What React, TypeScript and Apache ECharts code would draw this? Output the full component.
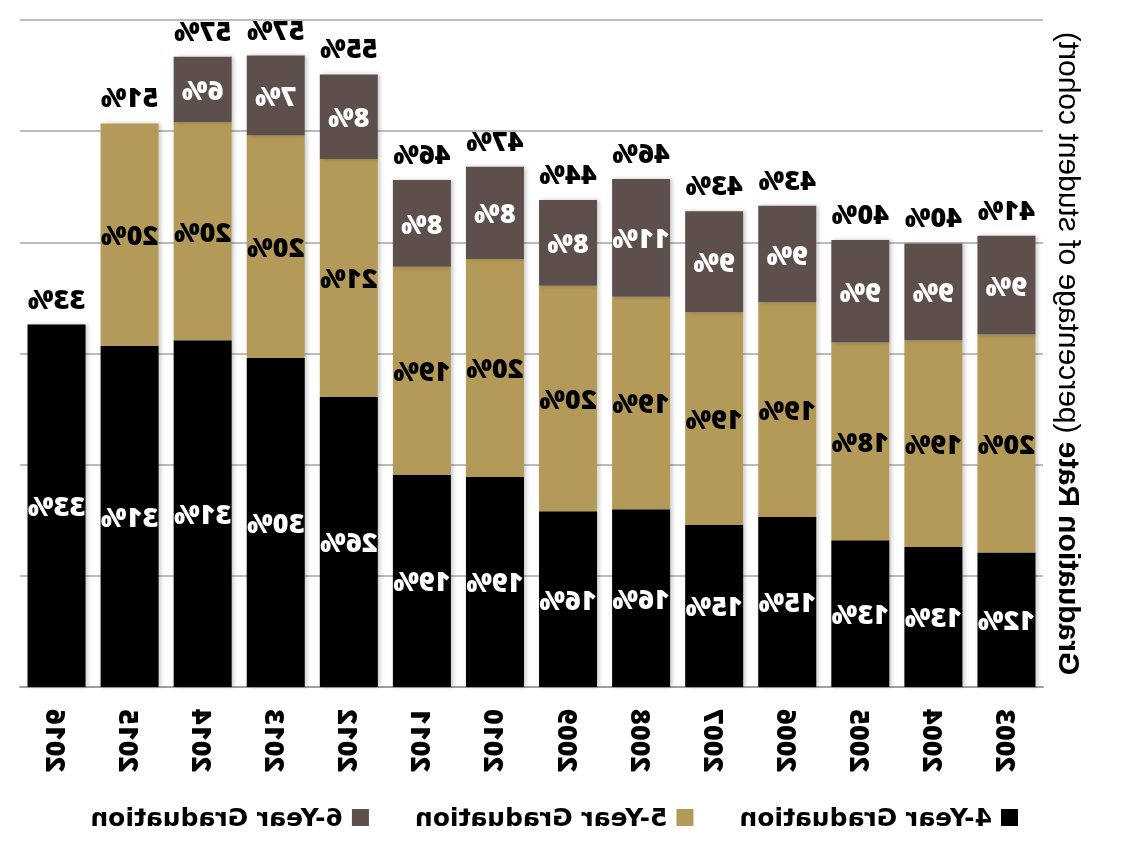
import React, { useEffect, useRef } from "react";
import * as echarts from "echarts";

const years = ["2003", "2004", "2005", "2006", "2007", "2008", "2009", "2010", "2011", "2012", "2013", "2014", "2015", "2016"];
const fourYear = [12.1, 12.6, 13.2, 15.3, 14.6, 16.0, 15.8, 18.9, 19.1, 26.1, 29.6, 31.2, 30.7, 32.6];
const fiveYear = [19.6, 18.6, 17.8, 19.3, 19.1, 19.1, 20.3, 19.6, 18.7, 21.4, 20.0, 19.6, 20.0, null];
const sixYear = [8.9, 8.7, 9.2, 8.7, 9.1, 10.6, 7.7, 8.3, 7.8, 7.6, 7.2, 5.9, null, null];
const totalLabels = [41, 40, 40, 43, 43, 46, 44, 47, 46, 55, 57, 57, 51, 33];
const zeroTop = [0, 0, 0, 0, 0, 0, 0, 0, 0, 0, 0, 0, 0, 0];

const LABEL_FONT = "'Open Sans', Lato, sans-serif";

export default function App() {
  const ref = useRef<HTMLDivElement>(null);
  useEffect(() => {
    document.body.style.margin = "0";
    const chart = echarts.init(ref.current!, null, { renderer: "svg" });
    const shadow = { shadowBlur: 4, shadowColor: "rgba(0,0,0,0.22)", shadowOffsetX: -2 };
    const inner = (color: string) => ({
      show: true,
      position: "inside" as const,
      color,
      fontFamily: LABEL_FONT,
      fontWeight: 800,
      fontSize: 27,
      formatter: (p: any) => (p.value == null ? "" : Math.round(p.value) + "%"),
    });
    chart.setOption({
      animation: false,
      grid: { left: 82, right: 20, top: 20, bottom: 162, containLabel: false },
      legend: {
        data: ["4-Year Graduation", "5-Year Graduation", "6-Year Graduation"],
        left: 102,
        top: 800,
        itemWidth: 17,
        itemHeight: 17,
        itemGap: 46,
        icon: "rect",
        textStyle: {
          fontFamily: "'DejaVu Sans', sans-serif",
          fontWeight: "bold",
          fontSize: 25,
          color: "#000",
          padding: [0, 0, 0, 4],
        },
      },
      xAxis: {
        type: "category",
        data: years,
        axisTick: { show: false },
        axisLine: { lineStyle: { color: "#a0a0a0", width: 2 } },
        axisLabel: {
          rotate: 90,
          margin: 22,
          color: "#000",
          fontFamily: LABEL_FONT,
          fontWeight: 800,
          fontSize: 27,
        },
      },
      yAxis: {
        type: "value",
        min: 0,
        max: 60,
        interval: 10,
        axisLabel: { show: false },
        axisLine: { show: false },
        axisTick: { show: false },
        splitLine: { lineStyle: { color: "#a6a6a6", width: 1.5 } },
        name: "{b|Graduation Rate} (percentage of student cohort)",
        nameLocation: "middle",
        nameGap: 11,
        nameTextStyle: {
          fontFamily: "'Liberation Sans', Arial, sans-serif",
          fontSize: 30,
          color: "#000",
          rich: {
            b: { fontFamily: "'Liberation Sans', Arial, sans-serif", fontSize: 30, fontWeight: "bold", color: "#000" },
          },
        },
      },
      series: [
        {
          name: "4-Year Graduation",
          type: "bar",
          stack: "g",
          barWidth: 58,
          data: fourYear,
          itemStyle: { color: "#000000", ...shadow },
          label: inner("#ffffff"),
        },
        {
          name: "5-Year Graduation",
          type: "bar",
          stack: "g",
          data: fiveYear,
          itemStyle: { color: "#b39a58", ...shadow },
          label: inner("#000000"),
        },
        {
          name: "6-Year Graduation",
          type: "bar",
          stack: "g",
          data: sixYear,
          itemStyle: { color: "#5d4f4b", ...shadow },
          label: inner("#ffffff"),
        },
        {
          name: "Total",
          type: "bar",
          stack: "g",
          data: zeroTop,
          itemStyle: { color: "transparent" },
          label: {
            show: true,
            position: "top",
            distance: 13,
            color: "#000",
            fontFamily: LABEL_FONT,
            fontWeight: 800,
            fontSize: 27,
            formatter: (p: any) => totalLabels[p.dataIndex] + "%",
          },
        },
      ],
    });
    return () => chart.dispose();
  }, []);
  return <div ref={ref} style={{ width: 1125, height: 849, transform: "scaleX(-1)" }} />;
}
